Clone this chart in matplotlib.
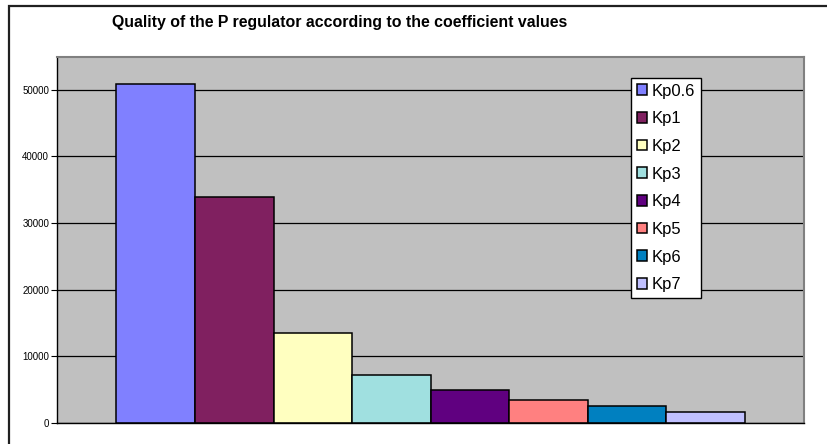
import matplotlib.pyplot as plt
from matplotlib.patches import Rectangle

labels = ['Kp0.6', 'Kp1', 'Kp2', 'Kp3', 'Kp4', 'Kp5', 'Kp6', 'Kp7']
values = [50850, 33900, 13550, 7250, 4900, 3500, 2500, 1600]
colors = ['#8080FF', '#802060', '#FFFFC0', '#A0E0E0', '#600080', '#FF8080', '#0080C0', '#C0C0FF']
yticks = [0, 10000, 20000, 30000, 40000, 50000]

plt.rcParams['font.family'] = ['Liberation Sans', 'DejaVu Sans']

W, H = 827, 444
fig = plt.figure(figsize=(W / 100, H / 100), dpi=100)

# outer chart frame (runs off the right/bottom edge like the original)
fig.patches.append(Rectangle((8.5 / W, -0.1), 1.2, (H - 6.5) / H + 0.1, transform=fig.transFigure,
                             fill=False, edgecolor='#202020', linewidth=1.6))

ax = fig.add_axes([57.5 / W, 1 - 423 / H, (804 - 57.5) / W, (423 - 56.5) / H])
ax.set_facecolor('#C0C0C0')

for i, (lab, v, c) in enumerate(zip(labels, values, colors)):
    ax.bar(i, v, width=1.0, color=c, edgecolor='black', linewidth=1.1, label=lab, zorder=3)

ax.set_xlim(-1.25, 8.25)
ax.set_ylim(0, 55000)
ax.set_yticks(yticks)
ax.set_yticklabels([str(t) for t in yticks], fontsize=7)
ax.set_xticks([])
ax.tick_params(axis='y', length=4, width=0.8, pad=2, color='black')
ax.grid(axis='y', color='black', linewidth=0.9, zorder=1)

for side in ['top', 'right']:
    ax.spines[side].set_color('#808080')
    ax.spines[side].set_linewidth(1.5)
for side in ['left', 'bottom']:
    ax.spines[side].set_color('black')
    ax.spines[side].set_linewidth(1.0)
ax.spines['bottom'].set_zorder(4)

fig.text(339.5 / W, 1 - 23 / H, 'Quality of the P regulator according to the coefficient values',
         ha='center', va='center', fontsize=11.4, fontweight='bold')

leg = ax.legend(loc='upper left', bbox_to_anchor=(630.7 / W, 1 - 77.7 / H),
                bbox_transform=fig.transFigure, fontsize=12, frameon=True, fancybox=False,
                handlelength=0.6, handleheight=0.6, handletextpad=0.3, labelspacing=0.76,
                borderpad=0.35, borderaxespad=0)
leg.get_frame().set_edgecolor('black')
leg.get_frame().set_linewidth(1.0)
leg.get_frame().set_facecolor('white')
leg.get_frame().set_alpha(1)
leg.set_zorder(5)

fig.savefig('out.png', dpi=100)
